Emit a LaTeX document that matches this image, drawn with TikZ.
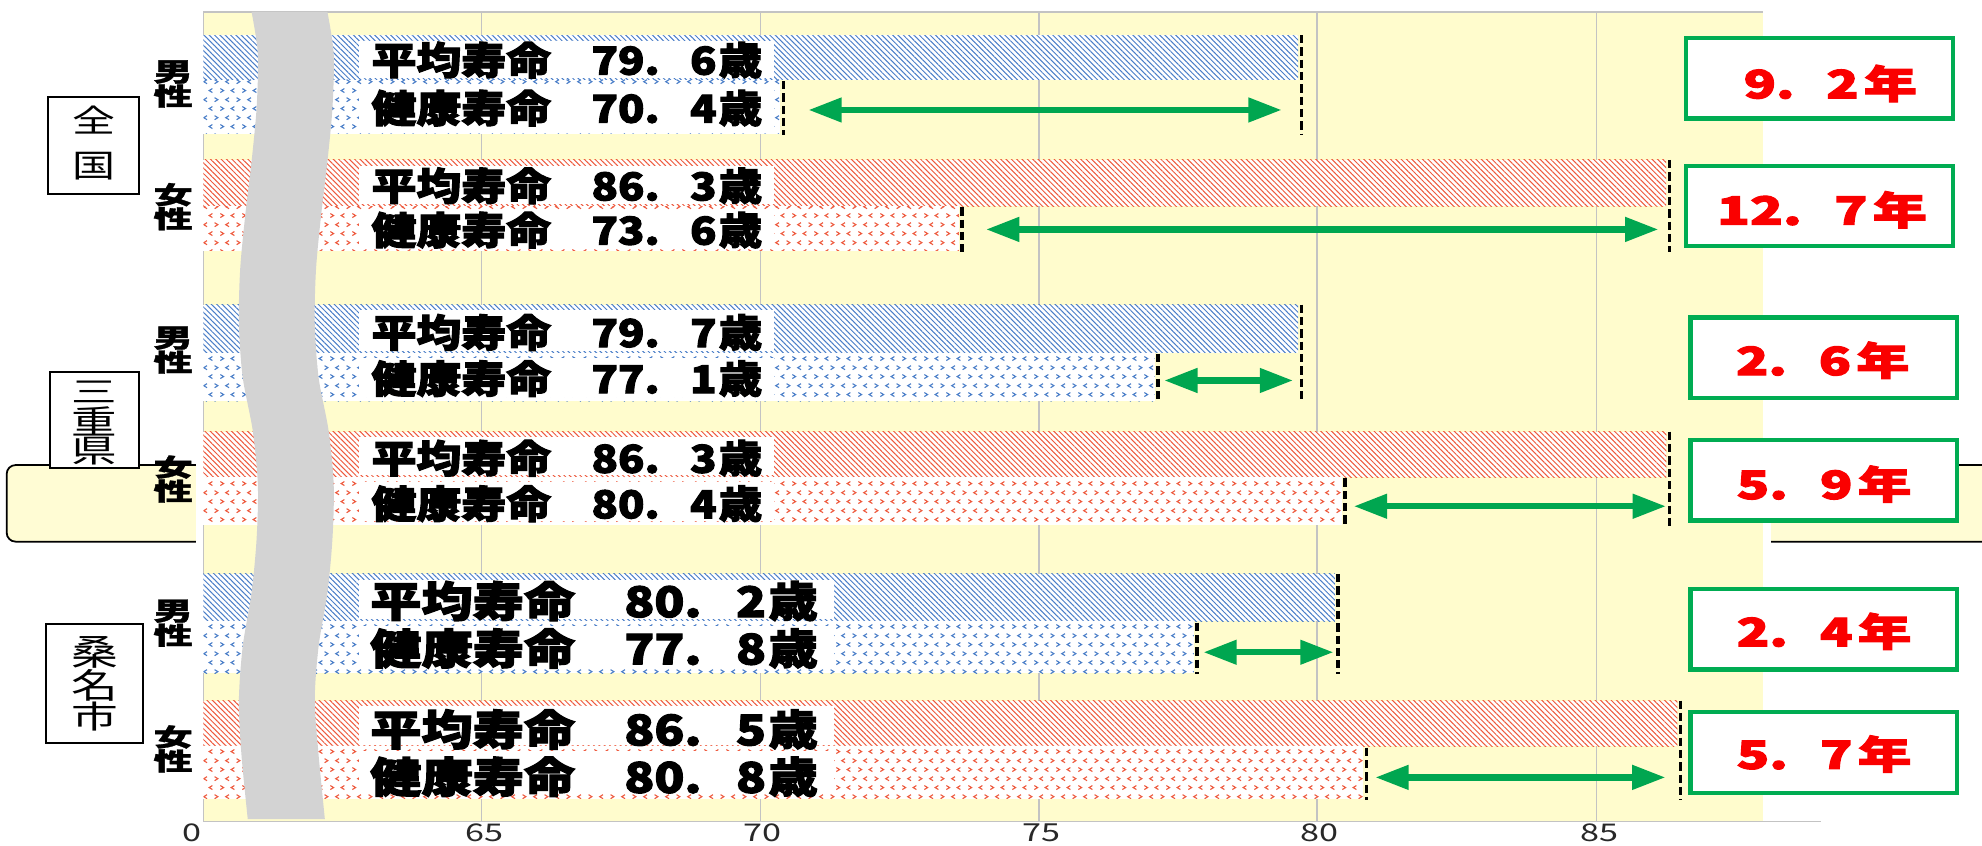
\documentclass[tikz,border=0pt]{standalone}
\usepackage{fontspec}
\usepackage{graphicx}
\usetikzlibrary{patterns.meta,arrows.meta}
\newfontfamily\jp{Noto Sans CJK JP}
\newfontfamily\jph{Noto Sans CJK JP}[BoldFeatures={FakeBold=2.6}]
\newfontfamily\jpm{Noto Sans CJK JP}[BoldFeatures={FakeBold=1.2}]
\newlength\pxu
\setlength\pxu{0.02cm}
\definecolor{plotbg}{RGB}{255,252,205}
\definecolor{boxbg}{RGB}{255,252,212}
\definecolor{gridc}{RGB}{195,195,195}
\definecolor{bandc}{RGB}{211,211,211}
\definecolor{mblue}{RGB}{74,126,200}
\definecolor{fred}{RGB}{238,90,62}
\definecolor{agreen}{RGB}{0,166,80}
\definecolor{bgreen}{RGB}{0,172,82}
\definecolor{tred}{RGB}{250,0,0}
\definecolor{axtext}{RGB}{40,40,40}

\tikzdeclarepattern{
  name=chev, type=uncolored,
  bottom left={(0pt,0pt)}, top right={(9.87pt,8.05pt)}, tile size={(9.87pt,8.05pt)},
  code={
    \draw[line width=0.5pt] (0.6pt,2.9pt) -- (2.07pt,2pt) -- (0.6pt,1.1pt);
    \draw[line width=0.5pt] (6.97pt,2.9pt) -- (5.5pt,2pt) -- (6.97pt,1.1pt);
    \draw[line width=0.5pt] (4.52pt,6.9pt) -- (3.05pt,6pt) -- (4.52pt,5.1pt);
    \draw[line width=0.5pt] (7.95pt,6.9pt) -- (9.42pt,6pt) -- (7.95pt,5.1pt);
  }
}

\tikzset{
  gridline/.style={draw=gridc, line width=0.68pt},
  hatchp/.style={pattern={Lines[angle=-45,distance=1.7pt,line width=0.45pt]}},
  dashv/.style={draw=black, line width=1.5pt, dash pattern=on 3.75pt off 1.8pt},
  garrow/.style={draw=agreen, line width=2.9pt, {Triangle[length=15pt,width=10.5pt]}-{Triangle[length=15pt,width=10.5pt]}},
  gbox/.style={draw=bgreen, line width=1.9pt, fill=white, inner sep=0, minimum width=4.22cm, minimum height=1.27cm},
  regbox/.style={draw=black, line width=0.8pt, fill=white, inner sep=0},
  plain/.style={inner sep=0, outer sep=0},
  lbl/.style={plain, anchor=west},
}
\newcommand\hb[3]{\resizebox{#1\pxu}{#2\pxu}{\jph\bfseries #3}}
\newcommand\mb[3]{\resizebox{#1\pxu}{#2\pxu}{\jpm\bfseries #3}}
\newcommand\rg[3]{\resizebox{#1\pxu}{#2\pxu}{\jp #3}}
\newcommand\num[2]{#1.\kern0.7em#2\kern0.05em歳}
\newcommand\yrs[2]{#1.\kern0.6em#2\kern0.1em年}

% #1 name, #2 y0, #3 boundary, #4 end, #5 x avg, #6 x health, #7 colour, #8 white right
\newcommand\bars[8]{%
  \fill[white] (160.9,#2) rectangle (#5-2.5,#3);
  \fill[hatchp,pattern color=#7] (160.9,#2) rectangle (#5-2.5,#3);
  \fill[white] (160.9,#3) rectangle (#6-2.5,#4);
  \fill[pattern=chev,pattern color=#7] (160.9,#3) rectangle (#6-2.5,#4);
  \fill[white] (284,#2+4.5) rectangle (#8,#3-1.5);
  \fill[white] (284,#3+4) rectangle (#8,#4-3.5);
  \coordinate (#1da) at (#5,#2);
  \coordinate (#1db) at (#5,#4+1);
  \coordinate (#1hx) at (#6,#3+1);
  \coordinate (#1hy) at (#6,#4+1);
  \draw[dashv] (#1da) -- (#1db);
  \draw[dashv] (#1hx) -- (#1hy);
}

\begin{document}
\begin{tikzpicture}[x=0.02cm,y=-0.02cm]
\path[use as bounding box] (0,0) rectangle (1568,669);
\clip (0,0) rectangle (1568,669);
\fill[white] (0,0) rectangle (1568,669);
% yellow callout box behind the chart
\draw[line width=0.8pt, fill=boxbg, rounded corners=4pt] (5.3,367.9) rectangle (1640,428.5);
% chart area
\fill[white] (155.4,-2) rectangle (1400.7,671);
\fill[plotbg] (160.9,9.3) rectangle (1395,650);
\foreach \gx in {381,601.5,822,1042,1263} \draw[gridline] (\gx,9.3) -- (\gx,650);
\draw[gridline] (160.9,9.3) -- (1395,9.3);
\draw[gridline] (160.9,9.3) -- (160.9,650);
\draw[gridline] (160.9,650) -- (1441,650);

% bars
\bars{zm}{27.7}{63.2}{106}{1029.5}{619.7}{mblue}{612}
\bars{zf}{126.5}{163}{198.5}{1320.6}{761}{fred}{612}
\bars{mm}{241}{279}{317.5}{1029.5}{916}{mblue}{612}
\bars{mf}{341.5}{377.5}{415.5}{1320.7}{1064}{fred}{612}
\bars{km}{454}{491.5}{532.5}{1058.5}{947}{mblue}{660}
\bars{kf}{554.3}{590.5}{632}{1329.5}{1081}{fred}{660}

% bar labels
\node[lbl] (zmA) at (294,47.5) {\hb{142}{26}{平均寿命}};
\node[lbl] (zmAv) at (468,47.5) {\hb{135}{26}{\num{79}{6}}};
\node[lbl] (zmH) at (294,85.5) {\hb{142}{26}{健康寿命}};
\node[lbl] (zmHv) at (468,85.5) {\hb{135}{26}{\num{70}{4}}};
\node[lbl] (zfA) at (294,147) {\hb{142}{26}{平均寿命}};
\node[lbl] (zfAv) at (468,147) {\hb{135}{26}{\num{86}{3}}};
\node[lbl] (zfH) at (294,182) {\hb{142}{26}{健康寿命}};
\node[lbl] (zfHv) at (468,182) {\hb{135}{26}{\num{73}{6}}};
\node[lbl] (mmA) at (294,263) {\hb{142}{26}{平均寿命}};
\node[lbl] (mmAv) at (468,263) {\hb{135}{26}{\num{79}{7}}};
\node[lbl] (mmH) at (294,299.5) {\hb{142}{26}{健康寿命}};
\node[lbl] (mmHv) at (468,299.5) {\hb{135}{26}{\num{77}{1}}};
\node[lbl] (mfA) at (294,362.5) {\hb{142}{26}{平均寿命}};
\node[lbl] (mfAv) at (468,362.5) {\hb{135}{26}{\num{86}{3}}};
\node[lbl] (mfH) at (294,398.5) {\hb{142}{26}{健康寿命}};
\node[lbl] (mfHv) at (468,398.5) {\hb{135}{26}{\num{80}{4}}};
\node[lbl] (kmA) at (293,475.5) {\hb{162}{28.5}{平均寿命}};
\node[lbl] (kmAv) at (494,475.5) {\hb{153}{28.5}{\num{80}{2}}};
\node[lbl] (kmH) at (293,513) {\hb{162}{28.5}{健康寿命}};
\node[lbl] (kmHv) at (494,513) {\hb{153}{28.5}{\num{77}{8}}};
\node[lbl] (kfA) at (293,577) {\hb{162}{28.5}{平均寿命}};
\node[lbl] (kfAv) at (494,577) {\hb{153}{28.5}{\num{86}{5}}};
\node[lbl] (kfH) at (293,614.5) {\hb{162}{28.5}{健康寿命}};
\node[lbl] (kfHv) at (494,614.5) {\hb{153}{28.5}{\num{80}{8}}};

% arrows between the two life expectancies
\foreach \nm/\xl/\xr/\ay in {zm/639.5/1014/87, zf/780/1312/181.5, mm/921/1023/301, mf/1071/1318/400.5, km/952/1055/516, kf/1088/1317.6/615}{
  \coordinate (\nm L) at (\xl,\ay);
  \coordinate (\nm R) at (\xr,\ay);
  \draw[garrow] (\nm L) -- (\nm R);
}

% axis break band
\fill[bandc] plot[smooth] coordinates {(199,9.3) (204,42.6) (203,85.3) (199,127.9) (194,170.5) (190,213.2) (189,255.8) (192,298.4) (200,341) (204,383.7) (203,426.3) (199,469) (192,511.6) (189,554.2) (191,596.8) (196,648)}
  -- plot[smooth] coordinates {(257,648) (252,596.8) (249,554.2) (252,511.6) (259,469) (263,426.3) (264,383.7) (260,341) (252,298.4) (249,255.8) (250,213.2) (254,170.5) (259,127.9) (263,85.3) (264,42.6) (259,9.3)} -- cycle;

% gender labels
\foreach \nm/\ya/\yb/\a in {zmg/57/76/男, zfg/154/173/女, mmg/267.5/286.5/男, mfg/369.5/388.5/女, kmg/483.5/502.5/男, kfg/583/602/女}{
  \node[plain] (\nm1) at (137,\ya) {\mb{31}{16.5}{\a}};
  \node[plain] (\nm2) at (137,\yb) {\mb{31}{16.5}{性}};
}

% region boxes
\node[regbox, minimum width=1.442cm, minimum height=1.54cm] (zenkoku) at (74.15,115) {};
\node[plain] (zen1) at (74.15,95) {\rg{34}{21}{全}};
\node[plain] (zen2) at (74.15,131.5) {\rg{34}{20}{国}};
\node[regbox, minimum width=1.412cm, minimum height=1.53cm] (mie) at (74.9,332.25) {};
\node[plain] (mie1) at (74.9,310) {\rg{36}{17}{三}};
\node[plain] (mie2) at (74.9,333) {\rg{36}{22}{重}};
\node[plain] (mie3) at (74.9,356.5) {\rg{36}{20}{県}};
\node[regbox, minimum width=1.532cm, minimum height=1.882cm] (kuwana) at (74.7,540.65) {};
\node[plain] (kuw1) at (74.7,516.5) {\rg{37}{23}{桑}};
\node[plain] (kuw2) at (74.7,542.5) {\rg{37}{23}{名}};
\node[plain] (kuw3) at (74.7,567) {\rg{37}{21}{市}};

% gap boxes
\node[gbox] (g1) at (1439.5,62) {};
\node[gbox] (g2) at (1439.5,162.8) {};
\node[gbox] (g3) at (1442.8,283) {};
\node[gbox] (g4) at (1442.8,380) {};
\node[gbox] (g5) at (1442.8,497.9) {};
\node[gbox] (g6) at (1442.8,595.3) {};
\node[plain,text=tred] (t1) at (1448,66) {\hb{137}{26.5}{\yrs{9}{2}}};
\node[plain,text=tred] (t2) at (1441.4,166) {\hb{166}{26.5}{\yrs{12}{7}}};
\node[plain,text=tred] (t3) at (1442,285) {\hb{137}{26.5}{\yrs{2}{6}}};
\node[plain,text=tred] (t4) at (1443,383) {\hb{138}{26.5}{\yrs{5}{9}}};
\node[plain,text=tred] (t5) at (1443,499.5) {\hb{138}{26.5}{\yrs{2}{4}}};
\node[plain,text=tred] (t6) at (1443,596.5) {\hb{138}{26.5}{\yrs{5}{7}}};

% axis labels
\node[plain,text=axtext] (ax0) at (152,659) {\rg{15}{14}{0}};
\node[plain,text=axtext] (ax65) at (383,659) {\rg{30}{14}{65}};
\node[plain,text=axtext] (ax70) at (603.5,659) {\rg{30}{14}{70}};
\node[plain,text=axtext] (ax75) at (824,659) {\rg{30}{14}{75}};
\node[plain,text=axtext] (ax80) at (1044,659) {\rg{30}{14}{80}};
\node[plain,text=axtext] (ax85) at (1265,659) {\rg{30}{14}{85}};
\end{tikzpicture}
\end{document}
